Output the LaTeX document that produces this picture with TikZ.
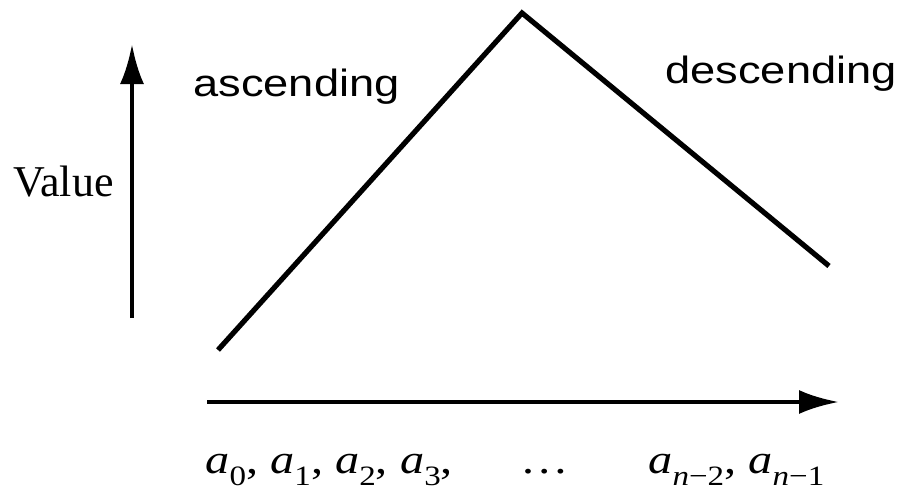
\documentclass[tikz,border=0pt]{standalone}
\usepackage{fontspec}
\setmainfont{Liberation Serif}
\newfontfamily\lblsans[FakeStretch=1.19]{Liberation Sans}
\newfontfamily\idxserif[FakeStretch=1.18]{Liberation Serif}
\usetikzlibrary{arrows.meta,positioning}
\newcommand{\ai}[1]{\textit{a}\raisebox{-6pt}{\fontsize{14}{15}\selectfont #1}}

\begin{document}
\begin{tikzpicture}[
  x=0.5pt, y=-0.5pt,
  axis/.style={line width=2.3pt, -{Latex[length=20pt, width=12pt]}},
  curve/.style={line width=2.6pt},
  sans/.style={inner sep=0pt, anchor=base west, font=\lblsans\fontsize{19}{22}\selectfont},
  idx/.style={inner sep=0pt, anchor=base west, font=\idxserif\fontsize{20.5}{24}\selectfont}
]
\useasboundingbox (0,0) rectangle (907,489);
% axes
\coordinate (ybot) at (132,318);
\coordinate (ytop) at (132,44);
\coordinate (xleft) at (207,402);
\coordinate (xright) at (839,402);
\draw[axis] (ybot) -- (ytop);
\draw[axis] (xleft) -- (xright);
% rise and fall
\coordinate (first) at (218,350);
\coordinate (peak) at (522,13);
\coordinate (last) at (829,266);
\draw[curve] (first) -- (peak) -- (last);
% labels
\node[sans] (asc) at (193,96) {ascending};
\node[sans] (desc) at (665,83) {descending};
\node[inner sep=0pt, anchor=base west, font=\fontsize{22}{26}\selectfont] (val) at (13,196) {Value};
\node[idx] (lo) at (205,473) {\ai{0}, \ai{1}, \ai{2}, \ai{3},};
\node[idx, anchor=base] (dots) at (545,473) {…};
\node[idx] (hi) at (648,473) {\ai{\textit{n}−2}, \ai{\textit{n}−1}};
\end{tikzpicture}
\end{document}
